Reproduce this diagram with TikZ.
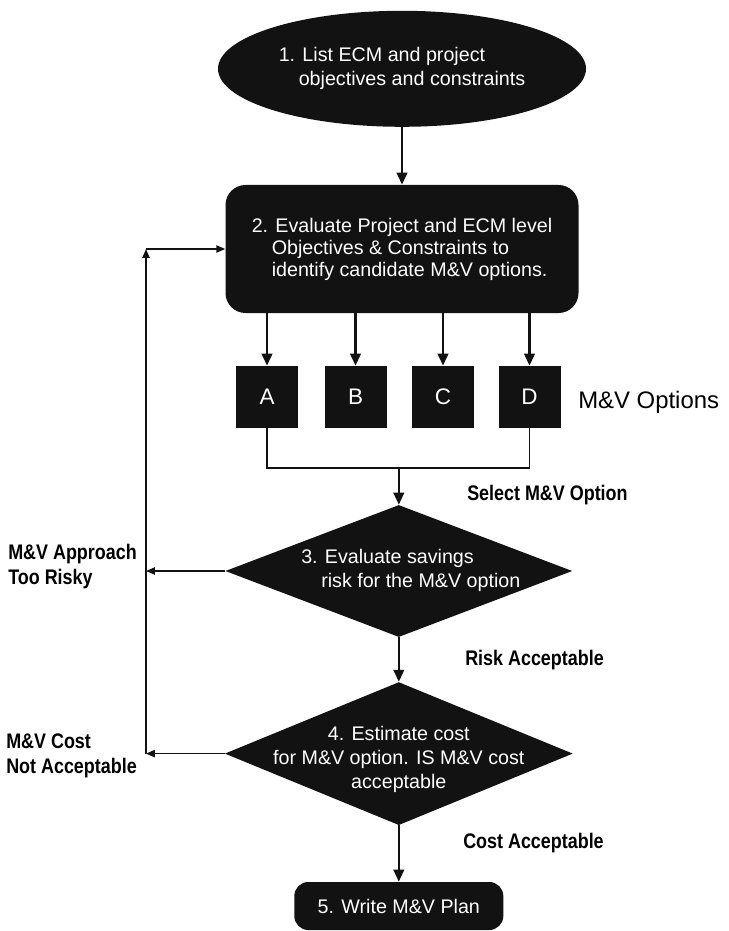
\documentclass[tikz,border=0pt]{standalone}
\usepackage{fontspec}
\setmainfont{Liberation Sans}
\newfontfamily\lblfont{Liberation Sans}[FakeStretch=0.85]
\usetikzlibrary{arrows.meta,positioning,shapes.geometric}
\definecolor{mvink}{RGB}{18,18,18}
\tikzset{
  mainarr/.style={-{Triangle[length=3mm,width=2.6mm]}, mvink, line width=1.8pt},
  backarr/.style={-{Triangle[length=2.2mm,width=1.8mm]}, mvink, line width=1pt},
  joinln/.style={mvink, line width=1pt},
  termnode/.style={ellipse, fill=mvink, text=white, minimum width=9.2cm, minimum height=2.9cm,
              align=left, font=\fontsize{14pt}{17pt}\selectfont},
  procbox/.style={fill=mvink, text=white, rounded corners=5mm, minimum width=8.825cm,
              minimum height=3.2cm, align=left, font=\fontsize{14pt}{15.6pt}\selectfont},
  optbox/.style={fill=mvink, text=white, minimum size=1.55cm, inner sep=0pt,
              font=\fontsize{16pt}{18pt}\selectfont},
  decide/.style={diamond, fill=mvink, inner sep=0pt},
  dtext/.style={text=white, font=\fontsize{14pt}{17pt}\selectfont},
  planbox/.style={fill=mvink, text=white, rounded corners=3.5mm, minimum width=5.225cm,
              minimum height=1.2cm, font=\fontsize{14pt}{17pt}\selectfont},
  sidelbl/.style={anchor=west, align=left, inner sep=0pt,
              font=\lblfont\bfseries\fontsize{15pt}{17.5pt}\selectfont},
}
\begin{document}
\begin{tikzpicture}
  \useasboundingbox (0,0) rectangle (18.225,-23.275);
  \node[termnode] (start) at (10.05,-1.72)
       {1. List ECM and project\\\hspace*{5mm}objectives and constraints};
  \node[procbox] (eval) at (10.05,-6.225)
       {2. Evaluate Project and ECM level\\\hspace*{5mm}Objectives \& Constraints to\\\hspace*{5mm}identify candidate M\&V options.};
  \node[optbox] (A) at (6.675,-9.925) {A};
  \node[optbox] (B) at (8.8875,-9.925) {B};
  \node[optbox] (C) at (11.075,-9.925) {C};
  \node[optbox] (D) at (13.2375,-9.925) {D};
  \node[anchor=west, inner sep=0pt, font=\fontsize{17pt}{19pt}\selectfont] (optlbl) at (14.45,-10.05) {M\&V Options};
  \coordinate (jn) at (9.97,-11.7);
  \node[decide, minimum width=8.675cm, minimum height=3.3cm] (risk) at (9.97,-14.275) {};
  \node[dtext, align=left] (risktxt) at (10.27,-14.26)
       {3. Evaluate savings\\\hspace*{5mm}risk for the M\&V option};
  \node[decide, minimum width=8.7cm, minimum height=3.575cm] (cost) at (9.97,-18.84) {};
  \node[dtext, align=center] (costtxt) at (9.97,-18.99)
       {4. Estimate cost\\for M\&V option. IS M\&V cost\\acceptable};
  \node[planbox] (plan) at (9.97,-22.65) {5. Write M\&V Plan};
  \node[sidelbl] (sel) at (11.675,-12.375) {Select M\&V Option};
  \node[sidelbl] (riskok) at (11.625,-16.5) {Risk Acceptable};
  \node[sidelbl] (costok) at (11.575,-21.075) {Cost Acceptable};
  \node[sidelbl] (toorisky) at (0.2,-14.16) {M\&V Approach\\Too Risky};
  \node[sidelbl] (notok) at (0.15,-18.9) {M\&V Cost\\Not Acceptable};
  \coordinate (loop) at (3.65,-6.225);
  \coordinate (back3) at (loop |- risk.west);
  \coordinate (back4) at (loop |- cost.west);
  \draw[mainarr] (start) -- (eval);
  \foreach \o in {A,B,C,D}
    \draw[mainarr] (eval.south -| \o) -- (\o);
  \draw[joinln] (A) |- (jn) -| (D);
  \draw[mainarr] (jn) -- (risk);
  \draw[mainarr] (risk) -- (cost);
  \draw[mainarr] (cost) -- (plan);
  \draw[backarr] (risk.west) -- (back3);
  \draw[backarr] (cost.west) -- (back4);
  \draw[backarr] (back4) -- (loop);
  \draw[backarr] (loop) -- (eval.west);
\end{tikzpicture}
\end{document}
